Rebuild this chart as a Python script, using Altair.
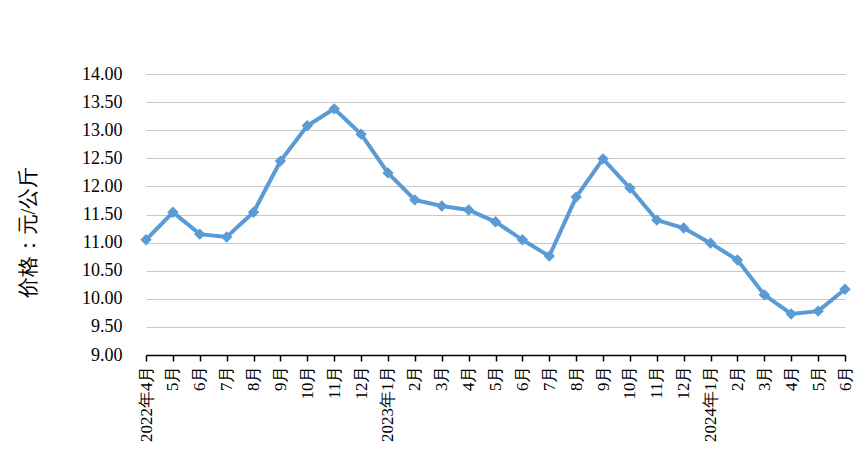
import altair as alt
import pandas as pd

months = ["2022年4月", "5月", "6月", "7月", "8月", "9月", "10月", "11月", "12月",
          "2023年1月", "2月", "3月", "4月", "5月", "6月", "7月", "8月", "9月", "10月", "11月", "12月",
          "2024年1月", "2月", "3月", "4月", "5月", "6月"]
prices = [11.05, 11.54, 11.15, 11.10, 11.54, 12.45, 13.08, 13.38, 12.93,
          12.24, 11.76, 11.65, 11.58, 11.37, 11.05, 10.76, 11.81, 12.49, 11.97, 11.40, 11.26,
          10.99, 10.69, 10.07, 9.73, 9.78, 10.17]

keys = [f"{i:02d}" for i in range(len(months))]
label_map = {k: m for k, m in zip(keys, months)}
df = pd.DataFrame({"key": keys, "label": months, "price": prices})

label_expr = "{" + ",".join(f"'{k}':'{m}'" for k, m in label_map.items()) + "}[datum.value]"

FONT = "Times New Roman, serif"

x = alt.X("key:O", sort=None,
          scale=alt.Scale(type="point", padding=0),
          axis=alt.Axis(title=None, labelAngle=-90, labelExpr=label_expr,
                        labelFont=FONT, labelFontSize=17, labelColor="#000000",
                        domainColor="#000000", domainWidth=1.5,
                        tickColor="#000000", tickSize=6, tickWidth=1.5,
                        labelPadding=4, grid=False))
y = alt.Y("price:Q",
          scale=alt.Scale(domain=[9, 14], nice=False, zero=False),
          axis=alt.Axis(title="价格：元/公斤", values=[9.5, 10, 10.5, 11, 11.5, 12, 12.5, 13, 13.5, 14, 9],
                        format=".2f", labelFont=FONT, labelFontSize=18, labelColor="#000000",
                        labelPadding=24, domain=False, ticks=False,
                        grid=True, gridColor="#C8C8C8", gridWidth=1,
                        titleFont=FONT, titleFontSize=21, titleFontWeight="normal",
                        titleColor="#000000", titleAngle=270, titleX=-118, titleY=158,
                        titleAlign="center", titleBaseline="middle"))

base = alt.Chart(df)
line = base.mark_line(color="#5B9BD5", strokeWidth=4).encode(x=x, y=y)
pts = base.mark_point(shape="diamond", filled=True, color="#5B9BD5", size=130, opacity=1).encode(x=x, y=y)

chart = (line + pts).properties(
    width=699, height=281,
    background="#ffffff",
    autosize=alt.AutoSizeParams(type="none"),
    padding={"left": 138, "top": 66, "right": 12, "bottom": 94},
).configure_view(
    strokeWidth=0, stroke="transparent"
).configure_axisX(grid=False).configure_axisY(domain=False)

chart.save("out.html", embed_options={"renderer": "svg", "actions": False})
